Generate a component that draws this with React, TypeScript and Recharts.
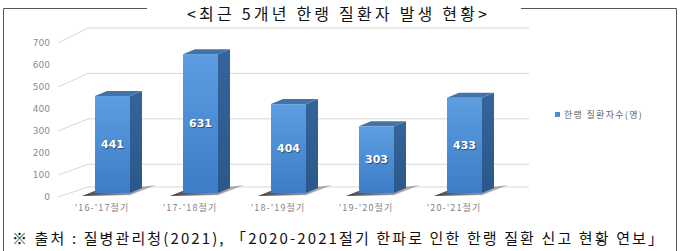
import React from "react";
import { BarChart, Bar, XAxis, YAxis, CartesianGrid, Legend, LabelList } from "recharts";

const seasons = ["'16-'17절기", "'17-'18절기", "'18-'19절기", "'19-'20절기", "'20-'21절기"];
const patients = [441, 631, 404, 303, 433];
const yTicks = [0, 100, 200, 300, 400, 500, 600, 700];
const seriesName = "한랭 질환자수(명)";
const title = "<최근 5개년 한랭 질환자 발생 현황>";
const source = "※ 출처 : 질병관리청(2021), 「2020-2021절기 한파로 인한 한랭 질환 신고 현황 연보」";

const data = seasons.map((s, i) => ({ season: s, count: patients[i] }));

// bar set back from the floor front edge, plus 3D depth of the bar itself
const SHIFT_X = 10;
const SHIFT_Y = -4;
const DEPTH_X = 12;
const DEPTH_Y = -5;
const PLOT_TOP = 43;
const PLOT_BOTTOM = 197;

const Bar3D = (props: any) => {
  const { x, y, width, height } = props;
  const fx = x + SHIFT_X;
  const fy = y + SHIFT_Y;
  const fb = fy + height;
  const w = width;
  return (
    <g>
      <polygon
        points={`${fx - 13},${fb + 3} ${fx + w},${fb + 2} ${fx + w + DEPTH_X + 14},${fb - 8} ${fx + w + DEPTH_X},${fb - 6} ${fx + 2},${fb - 3}`}
        fill="url(#shadowFill)"
      />
      <rect x={fx} y={fy} width={w} height={height} fill="url(#frontFill)" />
      <polygon
        points={`${fx + w},${fy} ${fx + w + DEPTH_X},${fy + DEPTH_Y} ${fx + w + DEPTH_X},${fb + DEPTH_Y} ${fx + w},${fb}`}
        fill="url(#sideFill)"
      />
      <polygon
        points={`${fx},${fy} ${fx + DEPTH_X},${fy + DEPTH_Y} ${fx + w + DEPTH_X},${fy + DEPTH_Y} ${fx + w},${fy}`}
        fill="#4373ab"
      />
    </g>
  );
};

const ValueLabel = (props: any) => {
  const { x, y, width, height, value } = props;
  return (
    <text
      x={x + width / 2 + SHIFT_X}
      y={y + height / 2 + SHIFT_Y}
      textAnchor="middle"
      dominantBaseline="central"
      fontFamily="DejaVu Sans"
      fontWeight="bold"
      fontSize={11}
      fill="#ffffff"
      style={{ textShadow: "1px 1px 1px rgba(0,0,0,0.45)" }}
    >
      {value}
    </text>
  );
};

const GridLine3D = (props: any) => {
  const { x1, y1, key } = props;
  const frac = (PLOT_BOTTOM - y1) / (PLOT_BOTTOM - PLOT_TOP);
  const by = y1 - (10 + 5 * frac);
  return (
    <path
      key={key}
      d={`M ${x1} ${y1} L ${x1 + 30} ${by} L 529 ${by}`}
      fill="none"
      stroke="#d9d9d9"
      strokeWidth={1}
    />
  );
};

const LegendBox = () => (
  <div style={{ display: "flex", alignItems: "center", fontFamily: "'Noto Sans CJK KR'", fontSize: 9, color: "#666", letterSpacing: 1.3 }}>
    <span style={{ display: "inline-block", width: 5, height: 5, background: "#4a8bd3", marginRight: 4 }} />
    {seriesName}
  </div>
);

export default function App() {
  return (
    <div style={{ position: "fixed", left: 0, top: 0, width: 680, height: 251, background: "#fff" }}>
      <BarChart width={680} height={251} data={data} margin={{ top: PLOT_TOP, right: 182, bottom: 0, left: 0 }} barSize={35}>
        <defs>
          <linearGradient id="frontFill" x1="0" y1="0" x2="0" y2="1">
            <stop offset="0%" stopColor="#5d9de0" />
            <stop offset="100%" stopColor="#3c7dc7" />
          </linearGradient>
          <linearGradient id="sideFill" x1="0" y1="0" x2="0" y2="1">
            <stop offset="0%" stopColor="#33649c" />
            <stop offset="100%" stopColor="#2a5889" />
          </linearGradient>
          <linearGradient id="shadowFill" x1="0" y1="0" x2="1" y2="0">
            <stop offset="0%" stopColor="#222" stopOpacity={0.85} />
            <stop offset="100%" stopColor="#444" stopOpacity={0.35} />
          </linearGradient>
        </defs>
        <CartesianGrid vertical={false} horizontal={GridLine3D} />
        <XAxis
          dataKey="season"
          height={54}
          interval={0}
          axisLine={false}
          tickLine={false}
          tick={{ fontSize: 9, fill: "#7f7f7f", fontFamily: "'Noto Sans CJK KR'", letterSpacing: 1.1 }}
        />
        <YAxis
          width={58}
          domain={[0, 700]}
          ticks={yTicks}
          axisLine={false}
          tickLine={false}
          tick={{ fontSize: 9, fill: "#8c8c8c", fontFamily: "DejaVu Sans" }}
        />
        <Legend layout="horizontal" verticalAlign="middle" align="center" wrapperStyle={{ left: 555, top: 108, width: 120 }} content={LegendBox} />
        <Bar dataKey="count" name={seriesName} shape={Bar3D} isAnimationActive={false}>
          <LabelList dataKey="count" content={ValueLabel} />
        </Bar>
      </BarChart>
      <svg width={680} height={251} style={{ position: "absolute", left: 0, top: 0, pointerEvents: "none" }}>
        <path d="M 3.5 251 V 8.5 H 147 M 521 8.5 H 676.5 V 251" fill="none" stroke="#555" strokeWidth={1} />
        <text x={187} y={13} dominantBaseline="central" fontFamily="'Noto Sans CJK KR'" fontSize={16} fill="#111" textLength={300} lengthAdjust="spacing">
          {title}
        </text>
        <text x={12} y={237} dominantBaseline="central" fontFamily="'Noto Sans CJK KR'" fontSize={15} fill="#111" textLength={651} lengthAdjust="spacing">
          {source}
        </text>
      </svg>
    </div>
  );
}
